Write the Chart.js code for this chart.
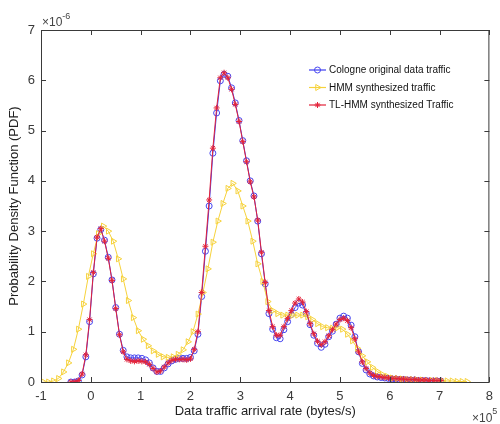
<!DOCTYPE html>
<html>
<head>
<meta charset="utf-8">
<script src="https://cdn.jsdelivr.net/npm/chart.js@4/dist/chart.umd.min.js"></script>
<style>
  html, body { margin: 0; padding: 0; background: #fff; }
  #wrap { width: 500px; height: 424px; }
</style>
</head>
<body>
<div id="wrap"><canvas id="pdfChart" width="500" height="424"></canvas></div>
<script>
// x in units of 1e5 bytes/s, y in units of 1e-6
const binX = [-0.4,-0.325,-0.25,-0.175,-0.1,-0.025,0.05,0.125,0.2,0.275,
  0.35,0.425,0.5,0.575,0.65,0.725,0.8,0.875,0.95,1.025,
  1.1,1.175,1.25,1.325,1.4,1.475,1.55,1.625,1.7,1.775,
  1.85,1.925,2,2.075,2.15,2.225,2.3,2.375,2.45,2.525,
  2.6,2.675,2.75,2.825,2.9,2.975,3.05,3.125,3.2,3.275,
  3.35,3.425,3.5,3.575,3.65,3.725,3.8,3.875,3.95,4.025,
  4.1,4.175,4.25,4.325,4.4,4.475,4.55,4.625,4.7,4.775,
  4.85,4.925,5,5.075,5.15,5.225,5.3,5.375,5.45,5.525,
  5.6,5.675,5.75,5.825,5.9,5.975,6.05,6.125,6.2,6.275,
  6.35,6.425,6.5,6.575,6.65,6.725,6.8,6.875,6.95,7.025];

const cologne = [0,0,0.02,0.14,0.5,1.2,2.15,2.86,3.03,2.82,
  2.48,2.03,1.48,0.95,0.63,0.5,0.48,0.48,0.48,0.47,
  0.44,0.38,0.28,0.21,0.21,0.28,0.36,0.42,0.45,0.47,
  0.47,0.47,0.49,0.62,0.95,1.7,2.6,3.5,4.55,5.35,
  5.99,6.12,6.08,5.85,5.55,5.2,4.8,4.4,4.0,3.7,
  3.2,2.55,1.95,1.36,1.05,0.88,0.86,1.04,1.2,1.34,
  1.48,1.57,1.53,1.36,1.14,0.93,0.77,0.69,0.75,0.9,
  1.01,1.15,1.27,1.31,1.27,1.13,0.9,0.6,0.37,0.24,
  0.16,0.12,0.1,0.09,0.08,0.07,0.06,0.06,0.05,0.05,
  0.04,0.04,0.04,0.03,0.03,0.03,0.02,0.02,0.02,0.02];

const tlhmm = [0,0,0.03,0.16,0.54,1.24,2.18,2.88,3.05,2.8,
  2.46,2.02,1.46,0.94,0.6,0.45,0.42,0.41,0.42,0.41,
  0.4,0.35,0.27,0.2,0.22,0.3,0.38,0.43,0.45,0.45,
  0.45,0.44,0.46,0.65,1.0,1.78,2.7,3.62,4.65,5.45,
  6.05,6.15,6.05,5.82,5.52,5.18,4.78,4.38,3.98,3.68,
  3.22,2.58,1.98,1.42,1.1,0.93,0.93,1.1,1.26,1.42,
  1.57,1.65,1.59,1.4,1.16,0.96,0.81,0.74,0.8,0.92,
  1.04,1.15,1.24,1.27,1.22,1.08,0.86,0.6,0.4,0.27,
  0.18,0.13,0.11,0.1,0.09,0.08,0.07,0.07,0.06,0.06,
  0.05,0.05,0.05,0.04,0.04,0.04,0.03,0.03,0.03,0.03];

const hmmX = [-0.95,-0.85,-0.75,-0.65,-0.55,-0.45,-0.35,-0.25,-0.15,-0.05,
  0.05,0.15,0.25,0.35,0.45,0.55,0.65,0.75,0.85,0.95,
  1.05,1.15,1.25,1.35,1.45,1.55,1.65,1.75,1.85,1.95,
  2.05,2.15,2.25,2.35,2.45,2.55,2.65,2.75,2.85,2.95,
  3.05,3.15,3.25,3.35,3.45,3.55,3.65,3.75,3.85,3.95,
  4.05,4.15,4.25,4.35,4.45,4.55,4.65,4.75,4.85,4.95,
  5.05,5.15,5.25,5.35,5.45,5.55,5.65,5.75,5.85,5.95,
  6.05,6.15,6.25,6.35,6.45,6.55,6.65,6.75,6.85,6.95,
  7.05,7.15,7.25,7.35,7.45,7.55];

const hmm = [0,0,0.02,0.07,0.2,0.38,0.65,1.05,1.55,2.1,
  2.55,2.95,3.1,3.0,2.8,2.45,2.05,1.62,1.28,1.02,
  0.85,0.72,0.62,0.55,0.5,0.49,0.5,0.55,0.64,0.8,
  1.0,1.35,1.78,2.25,2.78,3.2,3.55,3.85,3.95,3.8,
  3.5,3.2,2.8,2.35,2.0,1.6,1.42,1.36,1.33,1.33,
  1.33,1.33,1.33,1.3,1.24,1.16,1.1,1.08,1.07,1.08,
  1.05,0.95,0.82,0.67,0.52,0.4,0.29,0.21,0.15,0.11,
  0.08,0.07,0.06,0.05,0.05,0.04,0.04,0.03,0.03,0.03,
  0.02,0.02,0.02,0.01,0.01,0.01];

const seriesNames = ['Cologne original data traffic', 'HMM synthesized traffic', 'TL-HMM synthesized Traffic'];
const xTicks = [-1,0,1,2,3,4,5,6,7,8];
const yTicks = [0,1,2,3,4,5,6,7];

const axisColor = '#3a3a3a';
const labelFont = { family: 'Liberation Sans, Arial, sans-serif', size: 13 };

function pts(xs, ys) { return xs.map((x, i) => ({ x: x, y: ys[i] })); }

// MATLAB-ish box with inward ticks + exponent labels + legend
const boxPlugin = {
  id: 'boxPlugin',
  afterDraw(chart) {
    const c = chart.ctx, a = chart.chartArea;
    const xs = chart.scales.x, ys = chart.scales.y;
    c.save();
    c.strokeStyle = axisColor;
    c.lineWidth = 1;
    c.strokeRect(a.left + 0.5, a.top + 0.5, a.right - a.left - 1, a.bottom - a.top);
    c.beginPath();
    xTicks.forEach(v => {
      const px = Math.round(xs.getPixelForValue(v)) + 0.5;
      c.moveTo(px, a.bottom); c.lineTo(px, a.bottom - 5);
      c.moveTo(px, a.top); c.lineTo(px, a.top + 5);
    });
    yTicks.forEach(v => {
      const py = Math.round(ys.getPixelForValue(v)) + 0.5;
      c.moveTo(a.left, py); c.lineTo(a.left + 5, py);
      c.moveTo(a.right, py); c.lineTo(a.right - 5, py);
    });
    c.stroke();

    // exponent labels
    c.fillStyle = '#444';
    c.textBaseline = 'alphabetic';
    c.textAlign = 'left';
    c.font = '12px Liberation Sans, Arial, sans-serif';
    c.fillText('\u00d710', a.left + 1, 26);
    const w1 = c.measureText('\u00d710').width;
    c.font = '9px Liberation Sans, Arial, sans-serif';
    c.fillText('-6', a.left + 1 + w1, 19);
    c.font = '12px Liberation Sans, Arial, sans-serif';
    c.fillText('\u00d710', 472, 422);
    const w2 = c.measureText('\u00d710').width;
    c.font = '9px Liberation Sans, Arial, sans-serif';
    c.fillText('5', 472 + w2, 414);

    // legend
    const rows = [70, 87.5, 105];
    chart.data.datasets.forEach((ds, i) => {
      const y = rows[i];
      c.strokeStyle = ds.borderColor;
      c.lineWidth = 1.2;
      c.beginPath(); c.moveTo(309, y); c.lineTo(326, y); c.stroke();
      c.strokeStyle = ds.pointBorderColor;
      c.fillStyle = 'rgba(0,0,0,0)';
      c.lineWidth = 1;
      Chart.helpers.drawPoint(c, {
        pointStyle: ds.pointStyle, rotation: ds.pointRotation || 0,
        radius: ds.pointRadius, borderWidth: 1
      }, 317.5, y);
      c.fillStyle = '#111';
      c.font = '10px Liberation Sans Narrow, Liberation Sans, Arial, sans-serif';
      c.textBaseline = 'middle';
      c.fillText(seriesNames[i], 329, y + 0.5);
    });
    c.restore();
  }
};

new Chart(document.getElementById('pdfChart'), {
  type: 'line',
  data: {
    datasets: [
      {
        label: seriesNames[0], data: pts(binX, cologne), order: 2,
        borderColor: '#3c3cf0', backgroundColor: 'rgba(0,0,0,0)',
        borderWidth: 1, pointStyle: 'circle', pointRadius: 3,
        pointBorderWidth: 1, pointBorderColor: '#4646f0', pointBackgroundColor: 'rgba(0,0,0,0)'
      },
      {
        label: seriesNames[1], data: pts(hmmX, hmm), order: 1,
        borderColor: '#f6d23c', backgroundColor: 'rgba(0,0,0,0)',
        borderWidth: 1, pointStyle: 'triangle', pointRotation: 90, pointRadius: 3.5,
        pointBorderWidth: 1, pointBorderColor: '#f6d23c', pointBackgroundColor: 'rgba(0,0,0,0)'
      },
      {
        label: seriesNames[2], data: pts(binX, tlhmm), order: 0,
        borderColor: '#e3233a', backgroundColor: 'rgba(0,0,0,0)',
        borderWidth: 1, pointStyle: 'star', pointRadius: 3,
        pointBorderWidth: 1, pointBorderColor: '#e3233a', pointBackgroundColor: 'rgba(0,0,0,0)'
      }
    ]
  },
  options: {
    responsive: false,
    animation: false,
    events: [],
    layout: { padding: { top: 30, right: 0, bottom: 0, left: 0 } },
    plugins: { legend: { display: false }, tooltip: { enabled: false } },
    scales: {
      x: {
        type: 'linear', min: -1, max: 8,
        afterBuildTicks: s => { s.ticks = xTicks.map(v => ({ value: v })); },
        afterFit: s => { s.height = 42; },
        grid: { display: false, drawTicks: false },
        border: { display: false },
        ticks: { color: axisColor, font: labelFont, padding: 7, maxRotation: 0 },
        title: { display: true, text: 'Data traffic arrival rate (bytes/s)', color: '#222',
                 font: labelFont, padding: { top: 0, bottom: 5 } }
      },
      y: {
        type: 'linear', min: 0, max: 7,
        afterBuildTicks: s => { s.ticks = yTicks.map(v => ({ value: v })); },
        afterFit: s => { s.width = 41; },
        grid: { display: false, drawTicks: false },
        border: { display: false },
        ticks: { color: axisColor, font: labelFont, padding: 6 },
        title: { display: true, text: 'Probability Density Function (PDF)', color: '#222',
                 font: labelFont, padding: { top: 7, bottom: 0 } }
      }
    }
  },
  plugins: [boxPlugin]
});
</script>
</body>
</html>
